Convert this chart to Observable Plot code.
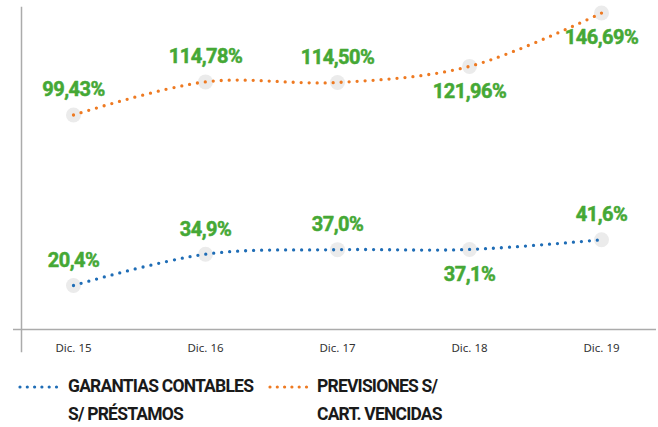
<!DOCTYPE html>
<html>
<head>
<meta charset="utf-8">
<script src="https://cdn.jsdelivr.net/npm/d3@7"></script>
<script src="https://cdn.jsdelivr.net/npm/@observablehq/plot@0.6"></script>
<style>
  html, body { margin: 0; padding: 0; background: #fff; }
  #chart { width: 658px; }
  .legend { display: flex; padding-left: 18px; margin-top: 4px; font-family: Roboto, sans-serif; font-weight: 700; font-size: 17.5px; line-height: 28px; color: #1a1a1a; letter-spacing: -0.8px; }
  .item { display: flex; align-items: flex-start; }
  .item svg { flex: none; margin-top: 12px; }
</style>
</head>
<body>
<div id="chart"></div>
<script>
const categories = ["Dic. 15", "Dic. 16", "Dic. 17", "Dic. 18", "Dic. 19"];
const previsiones = [99.43, 114.78, 114.50, 121.96, 146.69];
const garantias = [20.4, 34.9, 37.0, 37.1, 41.6];
const previsionesLabels = ["99,43%", "114,78%", "114,50%", "121,96%", "146,69%"];
const garantiasLabels = ["20,4%", "34,9%", "37,0%", "37,1%", "41,6%"];
const previsionesAbove = [true, true, true, false, false];
const garantiasAbove = [true, true, true, false, true];
const legendLines1 = ["GARANTIAS CONTABLES", "S/ PRÉSTAMOS"];
const legendLines2 = ["PREVISIONES S/", "CART. VENCIDAS"];

const ORANGE = "#EE7A22";
const BLUE = "#1F6DB6";
const GREEN = "#45A835";

const prev = categories.map((c, i) => ({cat: c, v: previsiones[i], label: previsionesLabels[i], above: previsionesAbove[i]}));
const gar = categories.map((c, i) => ({cat: c, v: garantias[i], label: garantiasLabels[i], above: garantiasAbove[i]}));
const all = prev.concat(gar);

const labelStyle = {fill: GREEN, stroke: GREEN, strokeWidth: 0.5, fontSize: 20, fontWeight: "bold", fontFamily: "Roboto, sans-serif"};

const plot = Plot.plot({
  width: 658,
  height: 368,
  marginTop: 0,
  marginLeft: 19,
  marginRight: 4,
  marginBottom: 39,
  x: {type: "point", domain: categories, padding: 0.4},
  y: {domain: [0, 152.5], axis: null},
  style: {background: "#fff"},
  marks: [
    Plot.frame({anchor: "left", stroke: "#ababab", strokeWidth: 1.5, insetLeft: 2, insetTop: 7, insetBottom: -22}),
    Plot.ruleY([0], {stroke: "#ababab", strokeWidth: 1.5, insetLeft: -6, insetRight: -2}),
    Plot.axisX({tickSize: 0, tickPadding: 14, fontSize: 11.5, fill: "#333", fontFamily: "'Noto Sans', sans-serif", label: null}),
    Plot.dot(all, {x: "cat", y: "v", r: 7.5, fill: "#ebebeb", stroke: "none"}),
    Plot.line(prev, {x: "cat", y: "v", stroke: ORANGE, strokeWidth: 3.3, strokeDasharray: "0 8", strokeLinecap: "round", curve: "catmull-rom"}),
    Plot.line(gar, {x: "cat", y: "v", stroke: BLUE, strokeWidth: 3.3, strokeDasharray: "0 8", strokeLinecap: "round", curve: "catmull-rom"}),
    Plot.text(all.filter(d => d.above), {x: "cat", y: "v", text: "label", dy: -25, ...labelStyle}),
    Plot.text(all.filter(d => !d.above), {x: "cat", y: "v", text: "label", dy: 25, ...labelStyle})
  ]
});
plot.querySelectorAll("g[aria-label='text'] text").forEach(t => t.style.letterSpacing = "-0.5px");
document.getElementById("chart").appendChild(plot);

function swatch(color) {
  return `<svg width="44" height="6" viewBox="0 0 44 6"><line x1="2" y1="3" x2="42" y2="3" stroke="${color}" stroke-width="3.2" stroke-linecap="round" stroke-dasharray="0 7.3"/></svg>`;
}
const legend = document.createElement("div");
legend.className = "legend";
legend.innerHTML =
  `<div class="item" style="width:250px">${swatch(BLUE)}<div style="margin-left:6px">${legendLines1.join("<br>")}</div></div>` +
  `<div class="item">${swatch(ORANGE)}<div style="margin-left:5px">${legendLines2.join("<br>")}</div></div>`;
document.body.appendChild(legend);
</script>
</body>
</html>
